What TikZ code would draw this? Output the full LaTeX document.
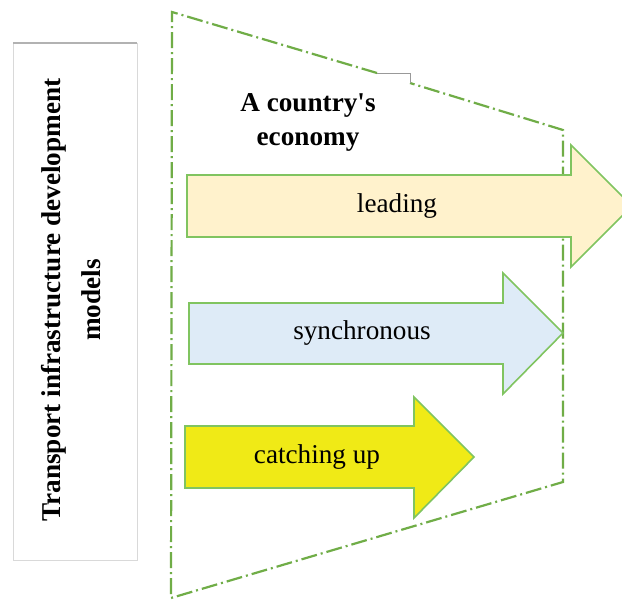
\documentclass[tikz,border=0pt]{standalone}
\usepackage{fontspec}
\setmainfont{Liberation Serif}
\usepackage{tikz}
\usepackage{xcolor}
\usetikzlibrary{positioning}

\definecolor{frame}{RGB}{112,173,71}
\definecolor{edge}{RGB}{128,196,96}
\definecolor{leadfill}{RGB}{255,242,204}
\definecolor{syncfill}{RGB}{222,235,247}
\definecolor{catchfill}{RGB}{240,234,22}

\begin{document}
\begin{tikzpicture}[
      x=0.5pt, y=-0.5pt,
      font=\fontsize{13.6}{17}\selectfont,
      panel/.style={draw=black!15, line width=0.5pt},
      border/.style={draw=frame, line width=1.1pt,
        dash pattern=on 8pt off 2pt on 1pt off 2pt},
      arrowbox/.style={draw=edge, line width=0.8pt, line join=miter},
      tag/.style={align=center, inner sep=0pt}
    ]
    \clip (0,0) rectangle (622,601);
    \fill[white] (0,0) rectangle (622,601);

    % left panel
    \draw[panel] (13,43) rectangle (137,560);
    \draw[black!30, line width=0.6pt] (13,43) -- (137,43);
    \node[tag, rotate=90, font=\fontsize{13.6}{20}\selectfont\bfseries] (models)
      at (71,300) {Transport infrastructure development\\models};

    % economy frame
    \draw[border] (377,73) -- (172,12) -- (171,598) -- (563,482) -- (563,130) -- (410,83);
    \draw[black!40, line width=0.4pt] (377,73) -- (410,73) -- (410,83);
    \node[tag, font=\fontsize{13.6}{17}\selectfont\bfseries] (economy)
      at (308,122) {A country\textquotesingle s\\economy};

    % arrows
    \draw[arrowbox, fill=leadfill] (187,175) -- (571,175) -- (571,145) -- (632,206)
      -- (571,267) -- (571,237) -- (187,237) -- cycle;
    \draw[arrowbox, fill=syncfill] (189,303) -- (503,303) -- (503,273) -- (563,333)
      -- (503,394) -- (503,364) -- (189,364) -- cycle;
    \draw[arrowbox, fill=catchfill] (185,426) -- (414,426) -- (414,397) -- (474,457)
      -- (414,518) -- (414,488) -- (185,488) -- cycle;

    \node[tag] (leading) at (397,206) {leading};
    \node[tag] (sync) at (362,333) {synchronous};
    \node[tag] (catching) at (317,457) {catching up};
  \end{tikzpicture}
\end{document}
